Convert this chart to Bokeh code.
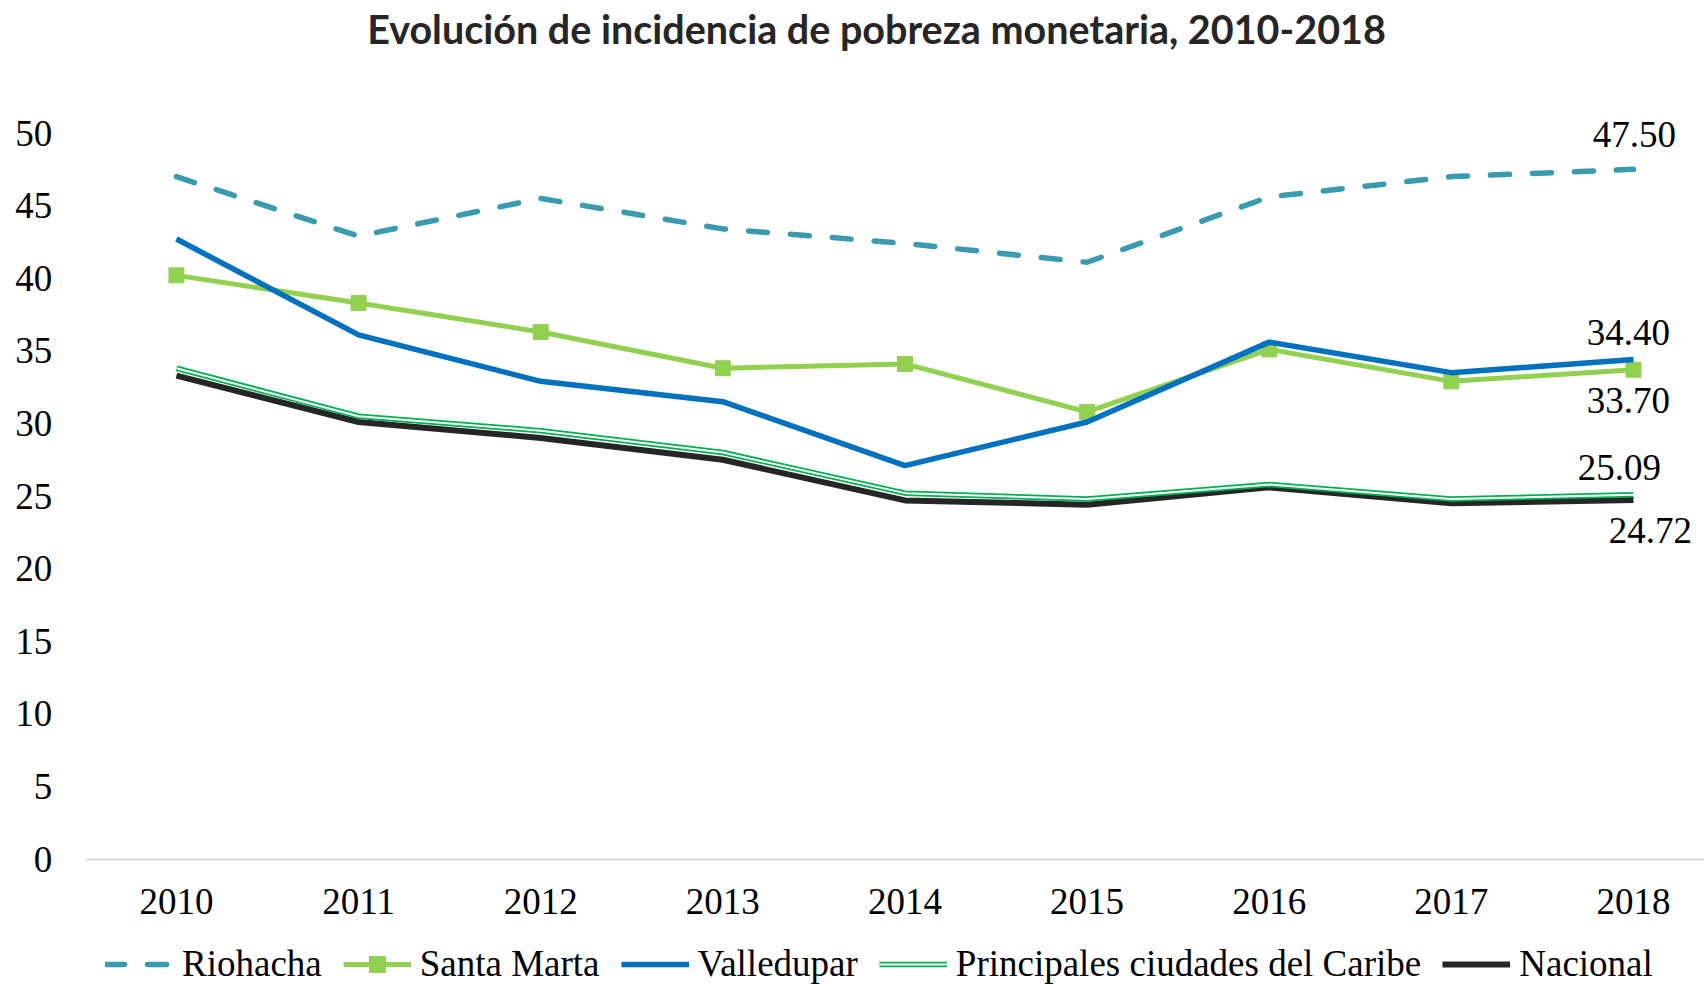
from bokeh.plotting import figure
from bokeh.models import Range1d, Legend, LegendItem, FixedTicker, Label
from bokeh.core.properties import value
from bokeh.embed import file_html
from bokeh.resources import INLINE

years = [2010, 2011, 2012, 2013, 2014, 2015, 2016, 2017, 2018]
riohacha = [47.0, 42.9, 45.5, 43.4, 42.4, 41.1, 45.6, 47.0, 47.5]
santa_marta = [40.2, 38.3, 36.3, 33.8, 34.1, 30.8, 35.1, 32.9, 33.7]
valledupar = [42.7, 36.1, 32.9, 31.5, 27.1, 30.1, 35.6, 33.5, 34.4]
caribe = [33.8, 30.5, 29.5, 28.0, 25.2, 24.8, 25.8, 24.8, 25.09]
nacional = [33.3, 30.1, 29.0, 27.5, 24.7, 24.4, 25.6, 24.5, 24.72]
y_ticks = [0, 5, 10, 15, 20, 25, 30, 35, 40, 45, 50]
series_names = ["Riohacha", "Santa Marta", "Valledupar",
                "Principales ciudades del Caribe", "Nacional"]
title_text = "Evolución de incidencia de pobreza monetaria, 2010-2018"

SERIF = "Liberation Serif"
FS = "37px"

W, H = 1704, 985
# frame covers the whole canvas; axes are placed at fixed data locations
p = figure(width=W, height=H,
           x_range=Range1d(2009.034, 2018.39), y_range=Range1d(-8.71, 59.13),
           output_backend="svg", toolbar_location=None, min_border=0)
p.title = None
p.outline_line_color = None
p.background_fill_color = "white"
p.border_fill_color = "white"
p.xgrid.visible = False
p.ygrid.visible = False

# axes
xa = p.xaxis[0]
xa.fixed_location = 0
xa.bounds = (2009.5, 2018.39)
xa.ticker = FixedTicker(ticks=years)
xa.axis_line_color = "#d9d9d9"
xa.axis_line_width = 2
xa.major_tick_line_color = None
xa.minor_tick_line_color = None
xa.major_label_text_font = SERIF
xa.major_label_text_font_size = FS
xa.major_label_text_color = "black"
xa.major_label_standoff = 24

ya = p.yaxis[0]
ya.fixed_location = 2009.5
ya.ticker = FixedTicker(ticks=y_ticks)
ya.axis_line_color = None
ya.major_tick_line_color = None
ya.minor_tick_line_color = None
ya.major_label_text_font = SERIF
ya.major_label_text_font_size = FS
ya.major_label_text_color = "black"
ya.major_label_standoff = 27

# series
r_rio = p.line(years, riohacha, line_color="#3A9BAF", line_width=5.5,
               line_dash="19 23", line_cap="round")
r_sm = p.line(years, santa_marta, line_color="#92D050", line_width=5)
r_sm_m = p.scatter(years, santa_marta, marker="square", size=15,
                   fill_color="#92D050", line_color="#92D050")
r_val = p.line(years, valledupar, line_color="#0070C0", line_width=5.5)
r_nac = p.line(years, nacional, line_color="#262626", line_width=6)
r_car_o = p.line(years, caribe, line_color="#00B050", line_width=5.5)
r_car_i = p.line(years, caribe, line_color="white", line_width=2)

# end labels (value, x offset, y offset to baseline)
labels = [
    (riohacha[-1], 1, -35),
    (valledupar[-1], -5, -27),
    (santa_marta[-1], -5, 31),
    (caribe[-1], -14, -27),
    (nacional[-1], 17, 30),
]
for v, dx, dy in labels:
    p.text(x=[years[-1]], y=[v], text=[f"{v:.2f}"], x_offset=dx, y_offset=dy,
           text_font=value(SERIF), text_font_size=FS, text_color="black",
           text_align="center", text_baseline="alphabetic")

# title
p.add_layout(Label(x=876, y=H - 28, x_units="screen", y_units="screen",
                   text=title_text, text_font="Lato", text_font_style="bold",
                   text_font_size="39.5px", text_color="#262626",
                   text_align="center", text_baseline="alphabetic"))

legend = Legend(items=[
    LegendItem(label=series_names[0], renderers=[r_rio]),
    LegendItem(label=series_names[1], renderers=[r_sm, r_sm_m]),
    LegendItem(label=series_names[2], renderers=[r_val]),
    LegendItem(label=series_names[3], renderers=[r_car_o, r_car_i]),
    LegendItem(label=series_names[4], renderers=[r_nac]),
], orientation="horizontal", location=(105, 0))
legend.label_text_font = SERIF
legend.label_text_font_size = FS
legend.label_text_color = "black"
legend.glyph_width = 68
legend.glyph_height = 40
legend.label_height = 40
legend.label_standoff = 9
legend.spacing = 21
legend.padding = 0
legend.margin = 0
legend.border_line_color = None
legend.background_fill_alpha = 0
p.add_layout(legend, "center")

open("out.html", "w").write(file_html(p, INLINE))
